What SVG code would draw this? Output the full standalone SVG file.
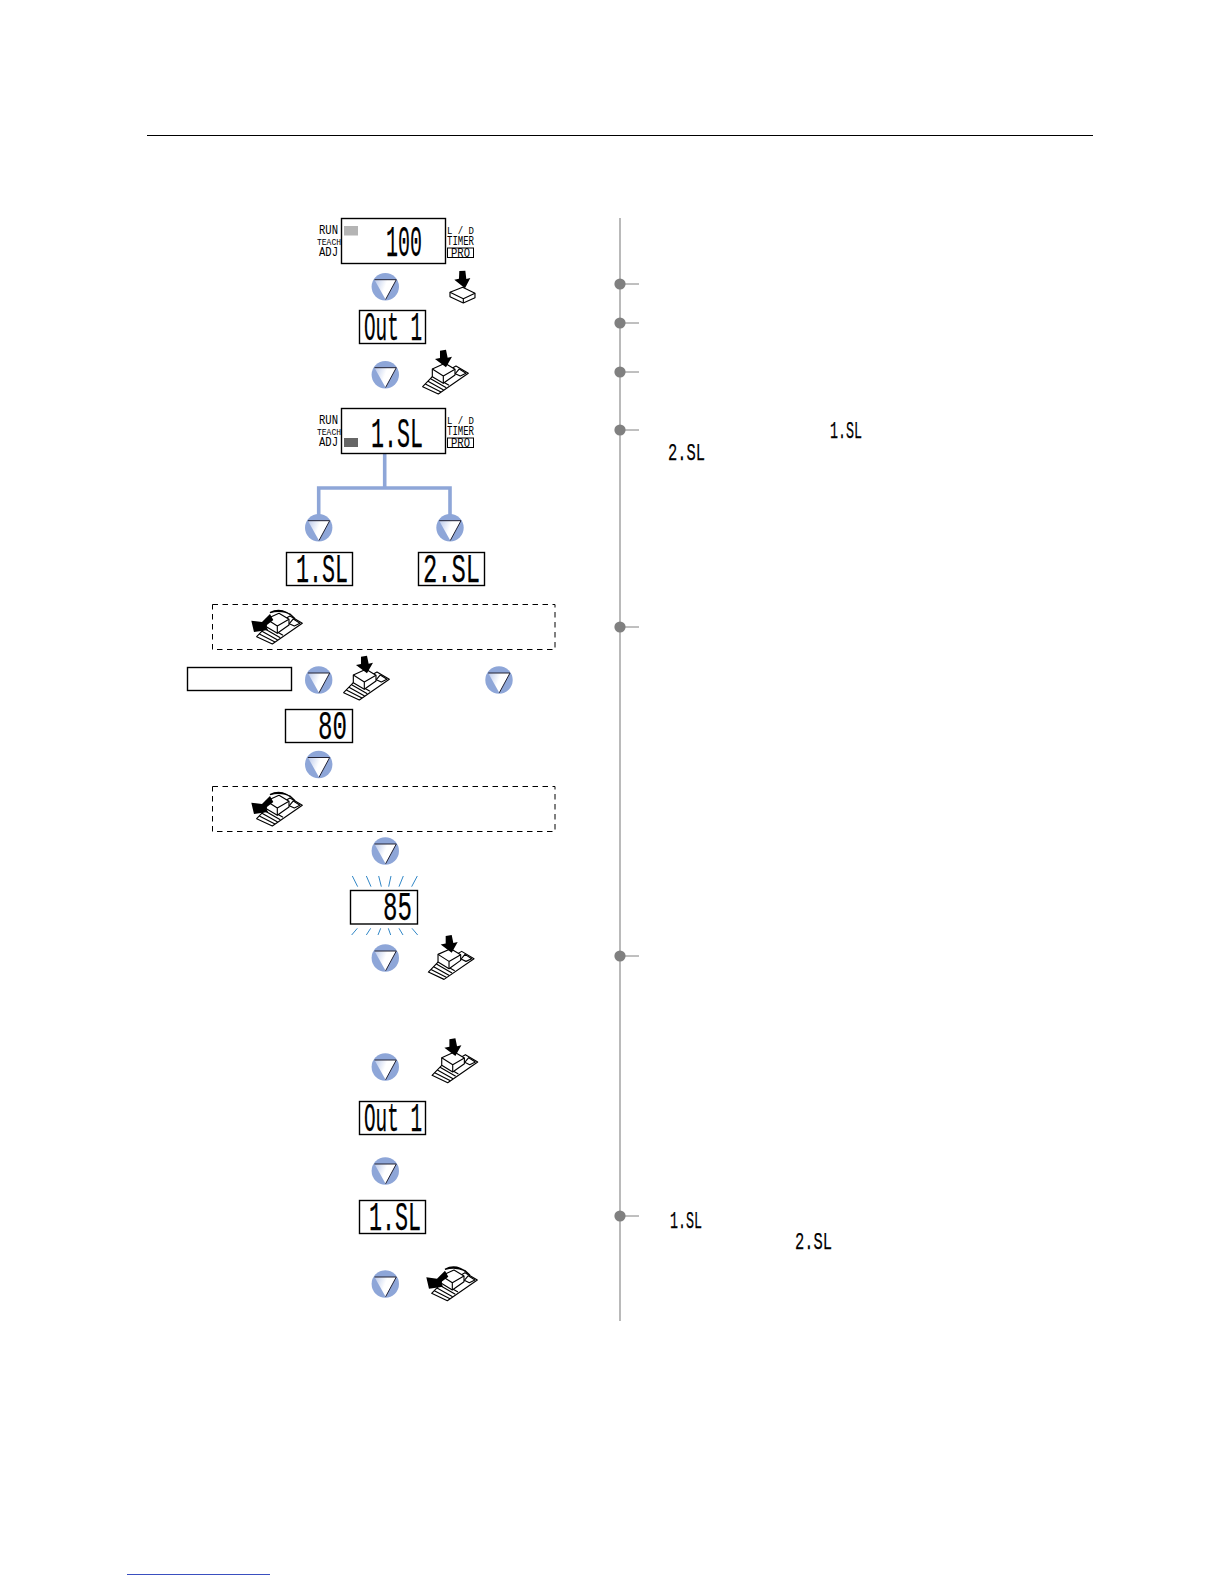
<svg xmlns="http://www.w3.org/2000/svg" width="1224" height="1584" viewBox="0 0 1224 1584">
<style>
.box{fill:#fff;stroke:#000;stroke-width:1.4}
.dash{fill:none;stroke:#000;stroke-width:1;stroke-dasharray:5.5 4.5}
.lcd{font-family:"Liberation Mono",monospace;fill:#000;stroke:#000;stroke-width:.25}
.lab{font-family:"Liberation Mono",monospace;fill:#000}
.ln{fill:none;stroke:#000;stroke-width:3.4;stroke-linejoin:round}
.wh{fill:#fff;stroke:#000;stroke-width:3.4;stroke-linejoin:round}
.ray{stroke:#2f86c6;stroke-width:3;fill:none}
.branch{stroke:#8ea6d8;stroke-width:3.6;fill:none}
.lead{stroke:#808080;stroke-width:1;fill:none}
.dot{fill:#808080}
</style>
<defs>
<linearGradient id="triFill" x1="0" y1="0" x2="1" y2=".35">
<stop offset="0" stop-color="#b9c8ea"/><stop offset=".55" stop-color="#fff"/>
</linearGradient>
<g id="tri">
<circle r="13.7" fill="#8ea6d8"/>
<path d="M-10.8-7H11L.3 12.8Z" fill="url(#triFill)"/>
<path d="M-10.8-7H11L.3 12.8" fill="none" stroke="#223" stroke-width="1"/>
</g>
<g id="ramp">
<path class="wh" d="M397 500L368 530L415 552L505 490L468 468L430 490Z"/>
<path class="ln" d="M376 522L423 546M384 514L431 540M392 506L439 533M400 499L447 526"/>
<path class="wh" d="M466 491L478 477L498 490L481 498Z"/>
<path class="wh" d="M397 477L435 460L465 478L465 495L430 520L397 500Z"/>
<path class="ln" d="M397 477L430 498L465 478M430 498V520"/>
</g>
<g id="press" transform="scale(.3333)">
<use href="#ramp"/>
<path d="M420 422L438 419L443 443L456 440L438 472L405 447L420 444Z" fill="#000"/>
</g>
<g id="swing" transform="scale(.3333)">
<use href="#ramp"/>
<path d="M408 462L418 480L396 497L402 510L360 516L352 482L384 486Z" fill="#000"/>
<path d="M408 458Q445 438 483 476L468 462Q440 449 408 458Z" fill="#000" stroke="#000" stroke-width="4"/>
</g>
</defs>

<rect width="1224" height="1584" fill="#fff"/>
<path id="top-rule" d="M147 135.5H1093" stroke="#000" stroke-width="1.2"/>
<path id="bottom-link" d="M127 1574.5H270" stroke="#3a4fc0" stroke-width="1.2"/>

<g id="connectors">
<path class="branch" d="M384.7 453V488M318.7 515V488H450V515"/>
<path d="M620 218V1321" stroke="#808080" stroke-width="1.1"/>
<path class="lead" d="M620 284H639M620 323H639M620 372H639M620 430H639M620 627H639M620 956H639M620 1216H639"/>
<circle class="dot" cx="620" cy="284" r="5.6"/>
<circle class="dot" cx="620" cy="323" r="5.6"/>
<circle class="dot" cx="620" cy="372" r="5.6"/>
<circle class="dot" cx="620" cy="430" r="5.6"/>
<circle class="dot" cx="620" cy="627" r="5.6"/>
<circle class="dot" cx="620" cy="956" r="5.6"/>
<circle class="dot" cx="620" cy="1216" r="5.6"/>
</g>

<g id="display-run">
<rect class="box" x="341.5" y="218.5" width="104" height="45"/>
<rect x="344" y="226" width="14" height="9.5" fill="#b4b4b4"/>
<text class="lcd" x="386" y="256" font-size="44" textLength="36" lengthAdjust="spacingAndGlyphs">100</text>
<text class="lab" x="319" y="234" font-size="12" textLength="19" lengthAdjust="spacingAndGlyphs">RUN</text>
<text class="lab" x="317" y="244.5" font-size="9" textLength="24" lengthAdjust="spacingAndGlyphs">TEACH</text>
<text class="lab" x="319" y="256" font-size="12" textLength="19" lengthAdjust="spacingAndGlyphs">ADJ</text>
<text class="lab" x="447" y="233.5" font-size="11" textLength="27" lengthAdjust="spacingAndGlyphs">L / D</text>
<text class="lab" x="447" y="245" font-size="12" textLength="27" lengthAdjust="spacingAndGlyphs">TIMER</text>
<rect x="447.5" y="248" width="26" height="9.5" fill="#fff" stroke="#000" stroke-width="1"/>
<text class="lab" x="451" y="257" font-size="12" textLength="19" lengthAdjust="spacingAndGlyphs">PRO</text>
</g>
<g id="step-1"><use href="#tri" x="385.3" y="286.7"/></g>
<g id="btn-flat" transform="translate(300 210) scale(.3333)">
<path class="wh" d="M450 247L488 232L525 250V263L490 279L450 260Z"/>
<path class="ln" d="M450 247L490 266L525 250M490 266V279"/>
<path d="M478 183L496 182L499 207L511 204L495 235L463 209L477 206Z" fill="#000"/>
</g>
<g id="display-out1">
<rect class="box" x="359.5" y="310.5" width="66" height="33"/>
<text class="lcd" x="364" y="340" font-size="40" textLength="58" lengthAdjust="spacingAndGlyphs">Out 1</text>
</g>
<g id="step-2"><use href="#tri" x="385.3" y="374.7"/></g>
<g id="btn-press-1"><use href="#press" transform="translate(300 210)"/></g>

<g id="display-1sl">
<rect class="box" x="341.5" y="408.5" width="104" height="45"/>
<rect x="344" y="438" width="14" height="9" fill="#666"/>
<text class="lcd" x="371" y="447" font-size="42" textLength="52" lengthAdjust="spacingAndGlyphs">1.SL</text>
<text class="lab" x="319" y="424" font-size="12" textLength="19" lengthAdjust="spacingAndGlyphs">RUN</text>
<text class="lab" x="317" y="434.5" font-size="9" textLength="24" lengthAdjust="spacingAndGlyphs">TEACH</text>
<text class="lab" x="319" y="446" font-size="12" textLength="19" lengthAdjust="spacingAndGlyphs">ADJ</text>
<text class="lab" x="447" y="423.5" font-size="11" textLength="27" lengthAdjust="spacingAndGlyphs">L / D</text>
<text class="lab" x="447" y="435" font-size="12" textLength="27" lengthAdjust="spacingAndGlyphs">TIMER</text>
<rect x="447.5" y="438" width="26" height="9.5" fill="#fff" stroke="#000" stroke-width="1"/>
<text class="lab" x="451" y="447" font-size="12" textLength="19" lengthAdjust="spacingAndGlyphs">PRO</text>
</g>

<g id="step-left"><use href="#tri" x="318.7" y="527.7"/></g>
<g id="step-right"><use href="#tri" x="450" y="527.7"/></g>
<g id="display-left-1sl">
<rect class="box" x="286.5" y="552.5" width="66" height="33"/>
<text class="lcd" x="296" y="582" font-size="40" textLength="52" lengthAdjust="spacingAndGlyphs">1.SL</text>
</g>
<g id="display-right-2sl">
<rect class="box" x="418.5" y="552.5" width="66" height="33"/>
<text class="lcd" x="423" y="582" font-size="40" textLength="57" lengthAdjust="spacingAndGlyphs">2.SL</text>
</g>

<g id="dashed-1">
<rect class="dash" x="212.5" y="604.5" width="342.5" height="45"/>
<use href="#swing" transform="translate(134 460)"/>
</g>

<g id="blank-label"><rect class="box" x="187.5" y="667.5" width="104" height="23"/></g>
<g id="step-3"><use href="#tri" x="318.7" y="680"/></g>
<g id="btn-press-2"><use href="#press" transform="translate(221 516)"/></g>
<g id="step-4"><use href="#tri" x="499" y="680"/></g>
<g id="display-80">
<rect class="box" x="285.5" y="709.5" width="67" height="33"/>
<text class="lcd" x="318" y="739" font-size="40" textLength="29" lengthAdjust="spacingAndGlyphs">80</text>
</g>
<g id="step-5"><use href="#tri" x="318.7" y="764.5"/></g>
<g id="dashed-2">
<rect class="dash" x="212.5" y="786.5" width="342.5" height="45"/>
<use href="#swing" transform="translate(134 642)"/>
</g>
<g id="step-6"><use href="#tri" x="385.3" y="851"/></g>
<g id="display-85">
<rect class="box" x="350.5" y="890.5" width="67" height="33.5"/>
<text class="lcd" x="383" y="920" font-size="40" textLength="29" lengthAdjust="spacingAndGlyphs">85</text>
<g transform="translate(340 860) scale(.3333)">
<path class="ray" d="M37 48L53 80M79 48L93 80M116 48L124 80M153 48L146 80M190 48L177 80M232 48L215 80M52 205L35 225M92 205L79 225M122 205L114 225M145 205L152 225M177 205L189 225M216 205L233 225"/>
</g>
</g>
<g id="step-7"><use href="#tri" x="385.3" y="958"/></g>
<g id="btn-press-3"><use href="#press" transform="translate(305.7 795.4)"/></g>
<g id="step-8"><use href="#tri" x="385.3" y="1067"/></g>
<g id="btn-press-4"><use href="#press" transform="translate(309.4 898.7)"/></g>
<g id="display-out1-b">
<rect class="box" x="359.5" y="1101.5" width="66" height="33"/>
<text class="lcd" x="364" y="1131" font-size="40" textLength="58" lengthAdjust="spacingAndGlyphs">Out 1</text>
</g>
<g id="step-9"><use href="#tri" x="385.3" y="1171"/></g>
<g id="display-1sl-b">
<rect class="box" x="359.5" y="1200.5" width="66" height="33"/>
<text class="lcd" x="369" y="1230" font-size="40" textLength="52" lengthAdjust="spacingAndGlyphs">1.SL</text>
</g>
<g id="step-10"><use href="#tri" x="385.3" y="1284"/></g>
<g id="btn-swing-3"><use href="#swing" transform="translate(309 1116.7)"/></g>

<g id="inline-lcd">
<text class="lcd" x="830" y="437.5" font-size="24" textLength="32" lengthAdjust="spacingAndGlyphs">1.SL</text>
<text class="lcd" x="668" y="459.5" font-size="24" textLength="37" lengthAdjust="spacingAndGlyphs">2.SL</text>
<text class="lcd" x="670" y="1227.5" font-size="24" textLength="32" lengthAdjust="spacingAndGlyphs">1.SL</text>
<text class="lcd" x="795" y="1249" font-size="24" textLength="37" lengthAdjust="spacingAndGlyphs">2.SL</text>
</g>
</svg>
